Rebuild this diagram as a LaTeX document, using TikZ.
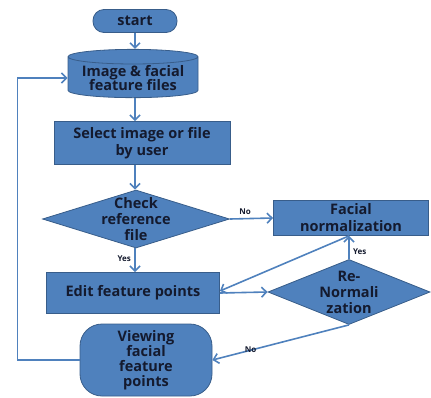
\documentclass[tikz,border=0pt]{standalone}
\usepackage{fontspec}
\setmainfont{Open Sans}
\usetikzlibrary{shapes.geometric,arrows.meta}
\definecolor{boxblue}{RGB}{79,129,189}
\definecolor{edgeblue}{RGB}{56,93,138}
\definecolor{inkblue}{RGB}{20,26,46}

\begin{document}
\begin{tikzpicture}[x=1pt, y=-1pt,
  every node/.style={text=inkblue, align=center, font=\bfseries\fontsize{14.5}{17}\selectfont},
  blk/.style={draw=edgeblue, fill=boxblue, line width=0.8pt, inner sep=1pt},
  procbox/.style={blk, rectangle},
  decision/.style={blk, diamond, inner sep=0pt},
  flow/.style={draw=boxblue, line width=1.6pt, -{Straight Barb[length=5pt,width=10pt]}},
  lbl/.style={font=\bfseries\fontsize{8}{9}\selectfont}]
\useasboundingbox (0,0) rectangle (431,397);
\node[blk, rounded corners=11pt, minimum width=84pt, minimum height=23pt] (start) at (135,21) {start};
\node[blk, cylinder, shape border rotate=90, aspect=0.14, minimum width=130pt, minimum height=40pt] (files) at (133,78) {Image \& facial\\[-3pt]feature files};
\node[procbox, minimum width=176pt, minimum height=43pt] (select) at (142,143) {Select image or file\\by user};
\node[decision, minimum width=187pt, minimum height=58pt,
  label={center:{Check\\[-1pt]reference\\[-1pt]file}}] (check) at (136,219) {};
\node[procbox, minimum width=155pt, minimum height=35pt] (facial) at (351,218) {Facial\\normalization};
\node[procbox, minimum width=173pt, minimum height=41pt] (edit) at (133,293) {Edit feature points};
\node[decision, minimum width=162pt, minimum height=65pt,
  label={center:{Re-\\[-1pt]Normali\\[-1pt]zation}}] (renorm) at (349,292) {};
\node[blk, rounded corners=22pt, minimum width=132pt, minimum height=72pt] (view) at (146,360) {Viewing\\[-2pt]facial\\[-2pt]feature\\[-2pt]points};

\draw[flow] (start) -- (start |- files.north);
\draw[flow] (start |- files.south) -- (start |- select.north);
\draw[flow] (start |- select.south) -- (start |- check.north);
\draw[flow] (check.south -| start) -- node[left, lbl, pos=0.45]{Yes} (start |- edit.north);
\draw[flow] (check.east) -- node[above, lbl, pos=0.35]{No} (facial.west);
\draw[flow] (edit.east) -- (renorm.west);
\draw[flow] (renorm.north) -- node[right, lbl, pos=0.3]{Yes} (renorm.north |- facial.south);
\draw[flow] (renorm.north |- facial.south) -- ([yshift=2pt]edit.east);
\draw[flow] (renorm.south) -- node[lbl, pos=0.72]{No} (view.east);
\draw[flow] (view.west) -- ++(-62,0) |- (files.west);
\end{tikzpicture}
\end{document}
